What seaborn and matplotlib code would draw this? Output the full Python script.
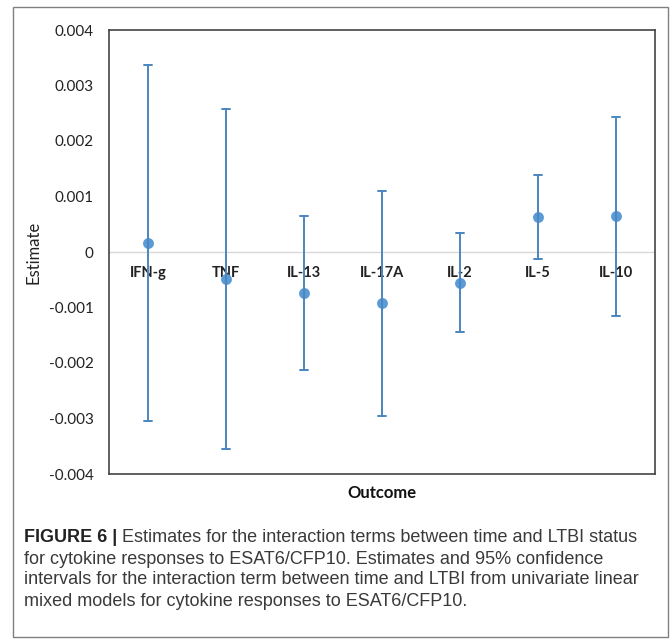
import numpy as np
import pandas as pd
import matplotlib
matplotlib.use("Agg")
import matplotlib.pyplot as plt
import seaborn as sns
from matplotlib.patches import Rectangle
from matplotlib.ticker import FuncFormatter

categories = ["IFN-g", "TNF", "IL-13", "IL-17A", "IL-2", "IL-5", "IL-10"]
estimate = [0.00016, -0.00049, -0.00074, -0.00092, -0.00055, 0.00063, 0.00064]
lower = [-0.00304, -0.00355, -0.00213, -0.00295, -0.00144, -0.00012, -0.00115]
upper = [0.00337, 0.00258, 0.00065, 0.00110, 0.00034, 0.00139, 0.00243]
yticks = [0.004, 0.003, 0.002, 0.001, 0, -0.001, -0.002, -0.003, -0.004]

caption_bold = "FIGURE 6 |"
caption_lines = [
    " Estimates for the interaction terms between time and LTBI status",
    "for cytokine responses to ESAT6/CFP10. Estimates and 95% confidence",
    "intervals for the interaction term between time and LTBI from univariate linear",
    "mixed models for cytokine responses to ESAT6/CFP10.",
]

rows = []
for c, e, lo, hi in zip(categories, estimate, lower, upper):
    for v in (lo, e, hi):
        rows.append({"Outcome": c, "Estimate": v})
df = pd.DataFrame(rows)

sns.set_theme(style="white")
plt.rcParams["font.family"] = ["Lato", "DejaVu Sans"]
plt.rcParams["axes.unicode_minus"] = False

fig = plt.figure(figsize=(6.72, 6.42), dpi=100)
ax = fig.add_axes([109 / 672, 1 - 474 / 642, 546 / 672, 444 / 642])

point_col = "#5B9BD5"
bar_col = "#4A86C0"
sns.pointplot(data=df, x="Outcome", y="Estimate", order=categories,
              estimator=np.median, errorbar=("pi", 100),
              linestyle="none", marker="o", markersize=5.8,
              color=point_col, capsize=0.09,
              err_kws={"color": bar_col, "linewidth": 1.4}, ax=ax)

ax.set_ylim(-0.004, 0.004)
ax.set_xlim(-0.5, len(categories) - 0.5)
ax.set_yticks(yticks)
ax.yaxis.set_major_formatter(FuncFormatter(lambda v, p: f"{v:g}"))
ax.tick_params(axis="y", length=0, pad=11, labelsize=11, labelcolor="#222222")
ax.set_xticks([])
ax.set_ylabel("Estimate", fontsize=12, color="#222222", labelpad=5)
ax.set_xlabel("Outcome", fontsize=12, fontweight="bold", color="#111111", labelpad=8)
ax.axhline(0, color="#d9d9d9", lw=1.0, zorder=0)
for s in ax.spines.values():
    s.set_color("#444444")
    s.set_linewidth(1.2)

for i, c in enumerate(categories):
    ax.annotate(c, xy=(i, 0), xytext=(0, -15), textcoords="offset points",
                ha="center", va="center", fontsize=10.5, fontweight="bold",
                color="#222222", zorder=1)

fig.patches.append(Rectangle((13 / 672, 1 - 637 / 642), 655 / 672, 630 / 642,
                             transform=fig.transFigure, fill=False,
                             edgecolor="#808080", lw=1.0))

cap_font = ["Liberation Sans Narrow", "Liberation Sans", "DejaVu Sans"]
cap_y = [538, 559, 580, 601]
fig.canvas.draw()
r = fig.canvas.get_renderer()
tb = fig.text(24 / 672, 1 - cap_y[0] / 642, caption_bold, family=cap_font,
              fontweight="bold", fontsize=13, color="#222222", va="center")
bb = tb.get_window_extent(renderer=r)
fig.text(bb.x1 / fig.bbox.width, 1 - cap_y[0] / 642, caption_lines[0],
         family=cap_font, fontsize=13, color="#3a3a3a", va="center")
for line, y in zip(caption_lines[1:], cap_y[1:]):
    fig.text(24 / 672, 1 - y / 642, line, family=cap_font, fontsize=13,
             color="#3a3a3a", va="center")

fig.savefig("out.png", dpi=100)
